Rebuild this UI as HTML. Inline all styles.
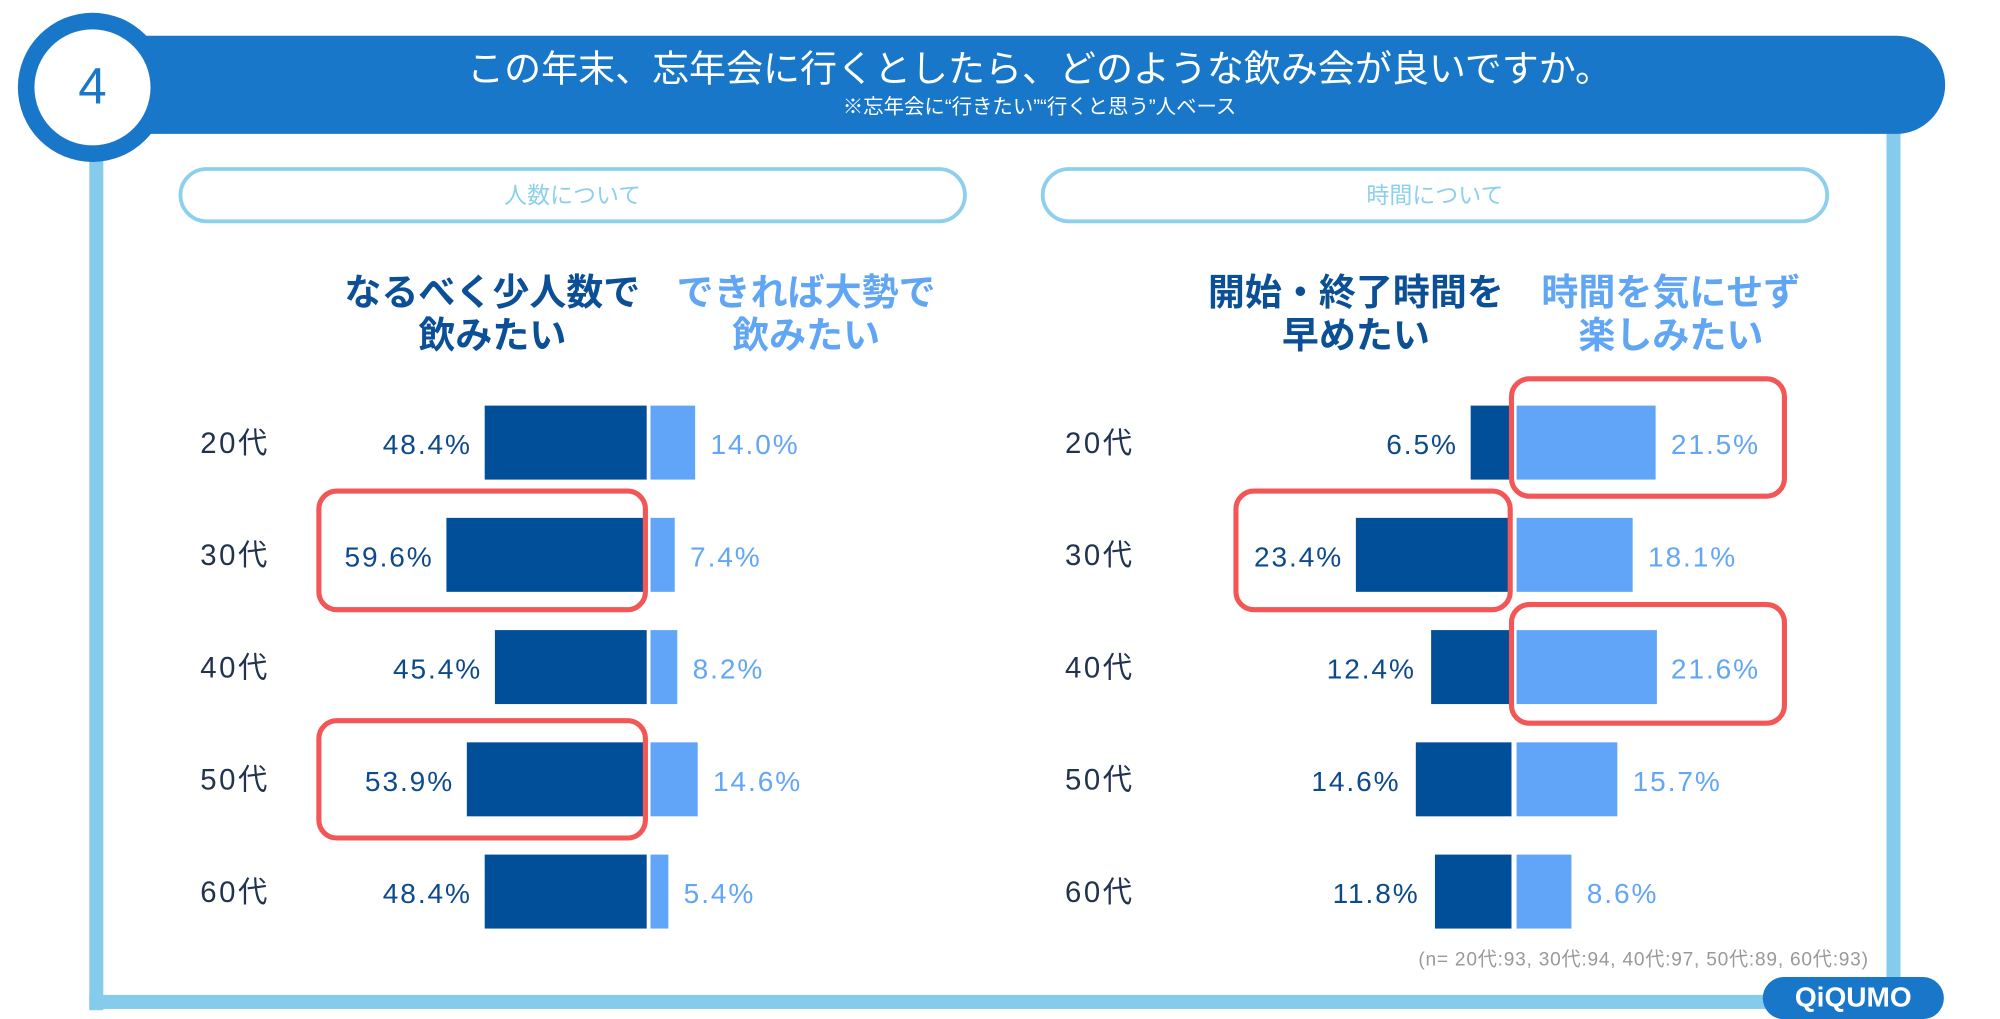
<!DOCTYPE html>
<html><head><meta charset="utf-8"><style>
html,body{margin:0;padding:0;background:#fff;width:2000px;height:1019px;overflow:hidden}
#w{position:absolute;left:0;top:0;width:1568px;height:799px;transform:scale(1.27551);transform-origin:0 0;font-family:"Liberation Sans","Noto Sans CJK JP",sans-serif}
.a{position:absolute}
.t{position:absolute;white-space:nowrap;line-height:1}
.d{background:#004f98}
.l{background:#60a5f8}
.lab{font-size:23px;color:#22334f;letter-spacing:2px}
.dv{font-size:22px;color:#0d4a8c;text-align:right;letter-spacing:1.5px}
.lv{font-size:22px;color:#62a6f5;letter-spacing:1.5px}
.rb{position:absolute;border:4px solid #f35656;border-radius:16px;box-sizing:border-box}
.h{font-size:29px;font-weight:bold;text-align:center;line-height:34px}
</style></head><body><div id="w">
<div class="a" style="left:70px;top:100px;width:11px;height:692px;background:#85cbec"></div>
<div class="a" style="left:70px;top:780px;width:1420px;height:11px;background:#85cbec"></div>
<div class="a" style="left:1479px;top:95px;width:11px;height:690px;background:#85cbec"></div>
<div class="a" style="left:75px;top:28px;width:1450px;height:77px;background:#1877c9;border-radius:0 39px 39px 0"></div>
<div class="a" style="left:14px;top:10px;width:117px;height:117px;border-radius:50%;background:#1877c9"></div>
<div class="a" style="left:27px;top:23px;width:91px;height:91px;border-radius:50%;background:#fff"></div>
<div class="t" style="left:14px;top:48px;width:117px;text-align:center;font-size:40px;color:#1877c9">4</div>
<div class="t" style="left:315px;top:41px;width:1000px;text-align:center;font-size:29px;color:#fff">この年末、忘年会に行くとしたら、どのような飲み会が良いですか。</div>
<div class="t" style="left:515px;top:77px;width:600px;text-align:center;font-size:16px;color:#fff">※忘年会に“行きたい”“行くと思う”人ベース</div>
<div class="a" style="left:140px;top:131px;width:618px;height:44px;border:3px solid #8dd0ee;border-radius:23px;box-sizing:border-box"></div>
<div class="t" style="left:140px;top:144px;width:618px;text-align:center;font-size:18px;color:#8dd0ee">人数について</div>
<div class="a" style="left:816px;top:131px;width:618px;height:44px;border:3px solid #8dd0ee;border-radius:23px;box-sizing:border-box"></div>
<div class="t" style="left:816px;top:144px;width:618px;text-align:center;font-size:18px;color:#8dd0ee">時間について</div>
<div class="t h" style="left:236px;top:213px;width:300px;color:#0b4f96">なるべく少人数で<br>飲みたい</div>
<div class="t h" style="left:482px;top:213px;width:300px;color:#61a6f5">できれば大勢で<br>飲みたい</div>
<div class="t h" style="left:913px;top:213px;width:300px;color:#0b4f96">開始・終了時間を<br>早めたい</div>
<div class="t h" style="left:1160px;top:213px;width:300px;color:#61a6f5">時間を気にせず<br>楽しみたい</div>
<div class="t lab" style="left:157px;top:336px">20代</div>
<div class="t lab" style="left:157px;top:424px">30代</div>
<div class="t lab" style="left:157px;top:512px">40代</div>
<div class="t lab" style="left:157px;top:600px">50代</div>
<div class="t lab" style="left:157px;top:688px">60代</div>
<div class="t lab" style="left:835px;top:336px">20代</div>
<div class="t lab" style="left:835px;top:424px">30代</div>
<div class="t lab" style="left:835px;top:512px">40代</div>
<div class="t lab" style="left:835px;top:600px">50代</div>
<div class="t lab" style="left:835px;top:688px">60代</div>

<div class="a d" style="left:380px;top:318px;width:127px;height:58px"></div>
<div class="a l" style="left:510px;top:318px;width:35px;height:58px"></div>
<div class="t dv" style="left:220px;top:338px;width:150px">48.4%</div>
<div class="t lv" style="left:557px;top:338px">14.0%</div>

<div class="a d" style="left:350px;top:406px;width:157px;height:58px"></div>
<div class="a l" style="left:510px;top:406px;width:19px;height:58px"></div>
<div class="t dv" style="left:190px;top:426px;width:150px">59.6%</div>
<div class="t lv" style="left:541px;top:426px">7.4%</div>

<div class="a d" style="left:388px;top:494px;width:119px;height:58px"></div>
<div class="a l" style="left:510px;top:494px;width:21px;height:58px"></div>
<div class="t dv" style="left:228px;top:514px;width:150px">45.4%</div>
<div class="t lv" style="left:543px;top:514px">8.2%</div>

<div class="a d" style="left:366px;top:582px;width:141px;height:58px"></div>
<div class="a l" style="left:510px;top:582px;width:37px;height:58px"></div>
<div class="t dv" style="left:206px;top:602px;width:150px">53.9%</div>
<div class="t lv" style="left:559px;top:602px">14.6%</div>

<div class="a d" style="left:380px;top:670px;width:127px;height:58px"></div>
<div class="a l" style="left:510px;top:670px;width:14px;height:58px"></div>
<div class="t dv" style="left:220px;top:690px;width:150px">48.4%</div>
<div class="t lv" style="left:536px;top:690px">5.4%</div>

<div class="a d" style="left:1153px;top:318px;width:32px;height:58px"></div>
<div class="a l" style="left:1189px;top:318px;width:109px;height:58px"></div>
<div class="t dv" style="left:993px;top:338px;width:150px">6.5%</div>
<div class="t lv" style="left:1310px;top:338px">21.5%</div>

<div class="a d" style="left:1063px;top:406px;width:122px;height:58px"></div>
<div class="a l" style="left:1189px;top:406px;width:91px;height:58px"></div>
<div class="t dv" style="left:903px;top:426px;width:150px">23.4%</div>
<div class="t lv" style="left:1292px;top:426px">18.1%</div>

<div class="a d" style="left:1122px;top:494px;width:63px;height:58px"></div>
<div class="a l" style="left:1189px;top:494px;width:110px;height:58px"></div>
<div class="t dv" style="left:960px;top:514px;width:150px">12.4%</div>
<div class="t lv" style="left:1310px;top:514px">21.6%</div>

<div class="a d" style="left:1110px;top:582px;width:75px;height:58px"></div>
<div class="a l" style="left:1189px;top:582px;width:79px;height:58px"></div>
<div class="t dv" style="left:948px;top:602px;width:150px">14.6%</div>
<div class="t lv" style="left:1280px;top:602px">15.7%</div>

<div class="a d" style="left:1125px;top:670px;width:60px;height:58px"></div>
<div class="a l" style="left:1189px;top:670px;width:43px;height:58px"></div>
<div class="t dv" style="left:963px;top:690px;width:150px">11.8%</div>
<div class="t lv" style="left:1244px;top:690px">8.6%</div>

<div class="rb" style="left:248px;top:383px;width:260px;height:97px"></div>
<div class="rb" style="left:248px;top:563px;width:260px;height:96px"></div>
<div class="rb" style="left:1183px;top:295px;width:218px;height:96px"></div>
<div class="rb" style="left:967px;top:383px;width:219px;height:97px"></div>
<div class="rb" style="left:1183px;top:472px;width:218px;height:97px"></div>

<div class="t" style="left:1112px;top:745px;font-size:15px;letter-spacing:0.6px;color:#999">(n= 20代:93, 30代:94, 40代:97, 50代:89, 60代:93)</div>
<div class="a" style="left:1382px;top:766px;width:142px;height:33px;border-radius:17px;background:#1877c9"></div>
<div class="t" style="left:1382px;top:771px;width:142px;text-align:center;font-size:22px;font-weight:bold;color:#fff">QiQUMO</div>
</div></body></html>
